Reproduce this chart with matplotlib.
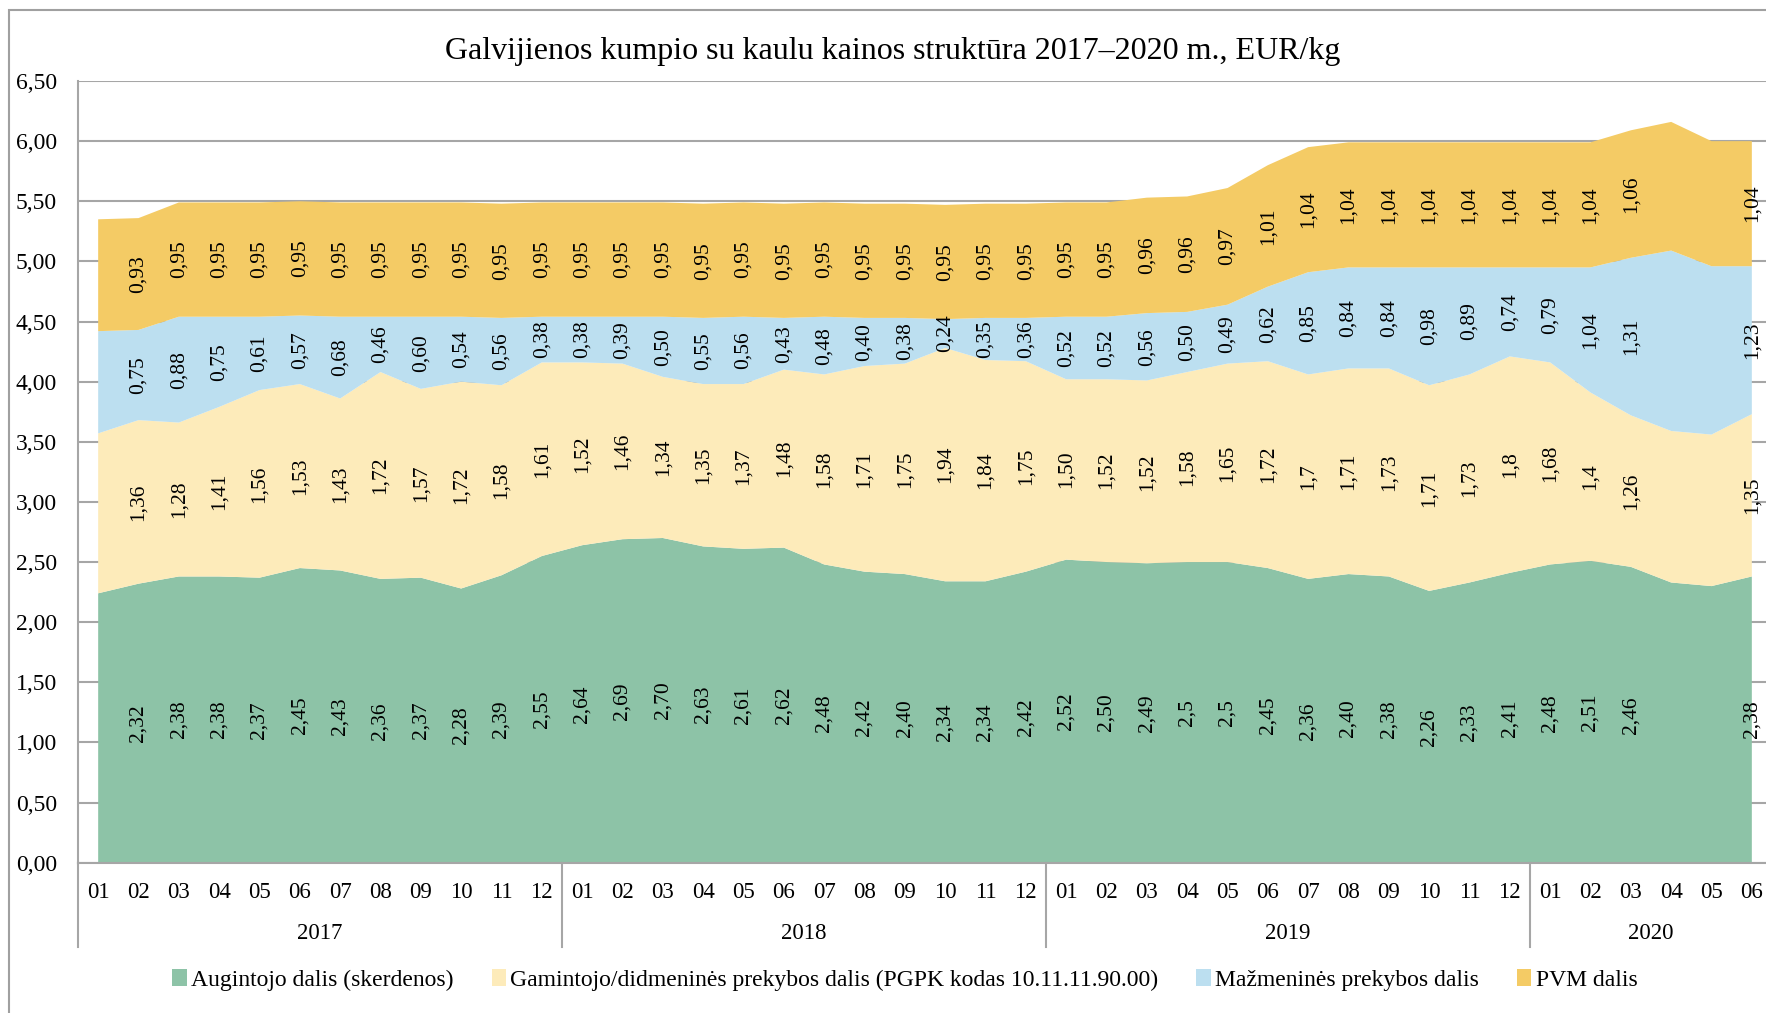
import matplotlib
matplotlib.use("Agg")
import matplotlib.pyplot as plt
from matplotlib.patches import Rectangle, Patch
import matplotlib.transforms as mtransforms

plt.rcParams['font.family'] = ['Liberation Serif', 'DejaVu Serif']

years = ["2017", "2018", "2019", "2020"]
months_per_year = [12, 12, 12, 6]
month_labels = [f"{m:02d}" for n in months_per_year for m in range(1, n + 1)]

series_names = [
    "Augintojo dalis (skerdenos)",
    "Gamintojo/didmeninės prekybos dalis (PGPK kodas 10.11.11.90.00)",
    "Mažmeninės prekybos dalis",
    "PVM dalis",
]

augintojo = [2.24, 2.32, 2.38, 2.38, 2.37, 2.45, 2.43, 2.36, 2.37, 2.28, 2.39, 2.55,
             2.64, 2.69, 2.70, 2.63, 2.61, 2.62, 2.48, 2.42, 2.40, 2.34, 2.34, 2.42,
             2.52, 2.50, 2.49, 2.5, 2.5, 2.45, 2.36, 2.40, 2.38, 2.26, 2.33, 2.41,
             2.48, 2.51, 2.46, 2.33, 2.30, 2.38]
gamintojo = [1.33, 1.36, 1.28, 1.41, 1.56, 1.53, 1.43, 1.72, 1.57, 1.72, 1.58, 1.61,
             1.52, 1.46, 1.34, 1.35, 1.37, 1.48, 1.58, 1.71, 1.75, 1.94, 1.84, 1.75,
             1.50, 1.52, 1.52, 1.58, 1.65, 1.72, 1.7, 1.71, 1.73, 1.71, 1.73, 1.8,
             1.68, 1.4, 1.26, 1.26, 1.26, 1.35]
mazmenines = [0.85, 0.75, 0.88, 0.75, 0.61, 0.57, 0.68, 0.46, 0.60, 0.54, 0.56, 0.38,
              0.38, 0.39, 0.50, 0.55, 0.56, 0.43, 0.48, 0.40, 0.38, 0.24, 0.35, 0.36,
              0.52, 0.52, 0.56, 0.50, 0.49, 0.62, 0.85, 0.84, 0.84, 0.98, 0.89, 0.74,
              0.79, 1.04, 1.31, 1.50, 1.40, 1.23]
pvm = [0.93, 0.93, 0.95, 0.95, 0.95, 0.95, 0.95, 0.95, 0.95, 0.95, 0.95, 0.95,
       0.95, 0.95, 0.95, 0.95, 0.95, 0.95, 0.95, 0.95, 0.95, 0.95, 0.95, 0.95,
       0.95, 0.95, 0.96, 0.96, 0.97, 1.01, 1.04, 1.04, 1.04, 1.04, 1.04, 1.04,
       1.04, 1.04, 1.06, 1.07, 1.04, 1.04]

# indices without data labels, and labels written in short (general) format
no_label_idx = [0, 39, 40]
short_fmt = {0: [27, 28], 1: [30, 35, 37], 2: [], 3: []}

yticks = [0.0, 0.5, 1.0, 1.5, 2.0, 2.5, 3.0, 3.5, 4.0, 4.5, 5.0, 5.5, 6.0, 6.5]

colors = ["#8DC3A7", "#FDEBBA", "#BCDFF0", "#F4CB65"]
grid_col = "#A6A6A6"

W, H = 1766, 1013
fig = plt.figure(figsize=(W / 100, H / 100), dpi=100)

# outer border (right/bottom edges are cropped in the reference)
fig.add_artist(Rectangle((9 / W, -0.2), 2.0, 1 - 10 / H + 0.2, transform=fig.transFigure,
                         fill=False, edgecolor="#A0A0A0", linewidth=1.5))

ax_left = 78 / W
ax_bottom = (H - 862.7) / H
ax_h = 781.7 / H
ax_w = (1772 - 78) / W
ax = fig.add_axes([ax_left, ax_bottom, ax_w, ax_h])

data = [augintojo, gamintojo, mazmenines, pvm]
n = len(augintojo)
x = list(range(n))
ax.stackplot(x, *data, colors=colors, linewidth=0, zorder=2)

ax.set_xlim(-0.5, n - 0.5)
ax.set_ylim(0, 6.5)
ax.set_yticks(yticks)
ax.set_yticklabels([f"{v:.2f}".replace(".", ",") for v in yticks], fontsize=17)
ax.tick_params(axis="y", length=0, pad=15)
ax.set_xticks([])
ax.yaxis.grid(True, color=grid_col, linewidth=1.5, zorder=0)
ax.set_axisbelow(True)
for s in ["top", "right"]:
    ax.spines[s].set_visible(False)
for s in ["left", "bottom"]:
    ax.spines[s].set_color(grid_col)
    ax.spines[s].set_linewidth(1.5)
    ax.spines[s].set_zorder(3)

# data labels centred in each band
base = [0.0] * n
for si, ser in enumerate(data):
    for i in range(n):
        v = ser[i]
        if i not in no_label_idx:
            if i in short_fmt[si]:
                txt = f"{v:g}".replace(".", ",")
            else:
                txt = f"{v:.2f}".replace(".", ",")
            ax.text(i, base[i] + v / 2, txt, rotation=90, ha="center", va="center",
                    fontsize=15.5, zorder=5)
        base[i] += v

# category axis: months and years
trans = mtransforms.blended_transform_factory(ax.transData, ax.transAxes)
for i, lab in enumerate(month_labels):
    ax.text(i, -30 / 781.7, lab, transform=trans, ha="center", va="center",
            fontsize=16.5, clip_on=False)
start = 0
sep_bottom = -84 / 781.7
for yi, (yr, cnt) in enumerate(zip(years, months_per_year)):
    left = start - 0.5
    right = start + cnt - 0.5
    ax.plot([left, left], [0, sep_bottom], transform=trans, color=grid_col,
            linewidth=1.5, clip_on=False)
    ax.text((left + right) / 2, -71 / 781.7, yr, transform=trans, ha="center",
            va="center", fontsize=16.5, clip_on=False)
    start += cnt

fig.text(893 / W, 1 - 51 / H, "Galvijienos kumpio su kaulu kainos struktūra 2017–2020 m., EUR/kg",
         ha="center", va="center", fontsize=23)

handles = [Patch(facecolor=c, edgecolor="none") for c in colors]
fig.legend(handles, series_names, loc="center", bbox_to_anchor=(905 / W, 1 - 980 / H),
           ncol=4, frameon=False, fontsize=17, handlelength=0.6, handleheight=0.7,
           handletextpad=0.2, columnspacing=1.6)

fig.savefig("out.png", dpi=100)
